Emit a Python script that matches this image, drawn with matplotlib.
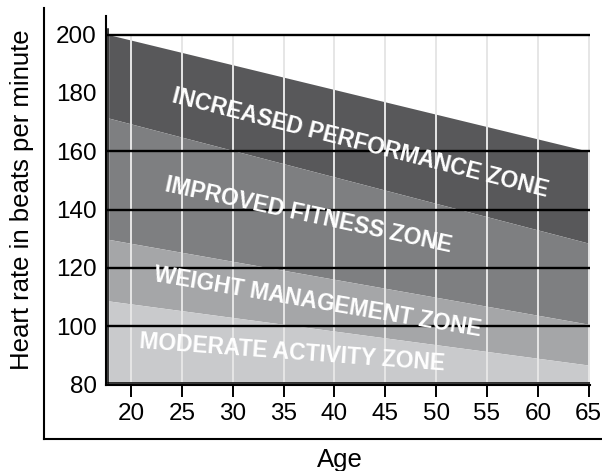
import matplotlib
matplotlib.use("Agg")
import matplotlib.pyplot as plt

plt.rcParams['font.family'] = ['Liberation Sans', 'DejaVu Sans']

# ---- data ----
ages = [17.8, 65]
max_hr = [200, 160]            # top of increased performance zone
improved_top = [171.4, 128.5]  # top of improved fitness zone
weight_top = [129.8, 100.7]    # top of weight management zone
moderate_top = [108.7, 86.7]   # top of moderate activity zone
floor_hr = [80.8, 80.8]        # bottom of moderate activity zone

zone_names = ["INCREASED PERFORMANCE ZONE", "IMPROVED FITNESS ZONE",
              "WEIGHT MANAGEMENT ZONE", "MODERATE ACTIVITY ZONE"]
zone_colors = ["#58585a", "#7e7f81", "#a5a6a8", "#c9cacc"]
label_x = [42.5, 37.4, 38.3, 35.8]
label_y = [162.7, 138.1, 108.3, 90.8]
label_rot = [-14.2, -12.1, -9.6, -4.2]

x_ticks = [20, 25, 30, 35, 40, 45, 50, 55, 60, 65]
y_ticks = [80, 100, 120, 140, 160, 180, 200]
black_lines = [100, 120, 140, 160, 200]

W, H = 602, 471
fig = plt.figure(figsize=(W / 100, H / 100), dpi=100)

# outer frame (L shape)
outer = fig.add_axes([44 / W, (H - 439) / H, (W - 44) / W + 0.01, (439 - 8) / H])
outer.set_facecolor('none')
outer.set_xticks([])
outer.set_yticks([])
for s in ['top', 'right']:
    outer.spines[s].set_visible(False)
for s in ['left', 'bottom']:
    outer.spines[s].set_linewidth(1.5)
outer.set_zorder(0)

# inner chart
ax = fig.add_axes([105.5 / W, (H - 385) / H, (590 - 105.5) / W, (385 - 15.7) / H])
ax.set_zorder(1)
ax.set_facecolor('none')
ax.set_xlim(17.49, 65.13)
ax.set_ylim(79.86, 206.5)

bounds = [max_hr, improved_top, weight_top, moderate_top, floor_hr]
for i in range(4):
    ax.fill_between(ages, bounds[i + 1], bounds[i], color=zone_colors[i],
                    linewidth=0, zorder=1)

# light vertical grid lines
ax.vlines(x_ticks, 80.65, 200, color="#e6e6e6", linewidth=1.4, zorder=2)

# black horizontal lines
for yv in black_lines:
    ax.axhline(yv, color="black", linewidth=1.7, zorder=3)

# inner frame lines
ax.plot([17.72, 17.72], [80.65, 202], color="black", linewidth=1.1, zorder=3)
ax.plot([17.72, 65.1], [80.65, 80.65], color="black", linewidth=1.1, zorder=3)

for name, lx, ly, rot in zip(zone_names, label_x, label_y, label_rot):
    ax.text(lx, ly, name, color="white", fontsize=16.4, fontweight="bold",
            rotation=rot, rotation_mode="anchor", ha="center", va="center",
            zorder=4)

ax.set_xticks(x_ticks)
ax.set_xticklabels([str(v) for v in x_ticks])
ax.set_yticks(y_ticks)
ax.set_yticklabels([str(v) for v in y_ticks])
ax.tick_params(axis='x', direction='out', length=8.6, width=1.4, pad=4.3,
               labelsize=17.5)
ax.tick_params(axis='y', length=0, pad=6.3, labelsize=17.5)
for s in ['top', 'right']:
    ax.spines[s].set_visible(False)
for s in ['left', 'bottom']:
    ax.spines[s].set_linewidth(1.5)

fig.text(22.5 / W, 1 - 200 / H, "Heart rate in beats per minute", rotation=90,
         ha="center", va="center", fontsize=18.5)
fig.text(340 / W, (H - 467) / H, "Age", ha="center", va="baseline", fontsize=18.5)

fig.savefig("out.png", dpi=100)
